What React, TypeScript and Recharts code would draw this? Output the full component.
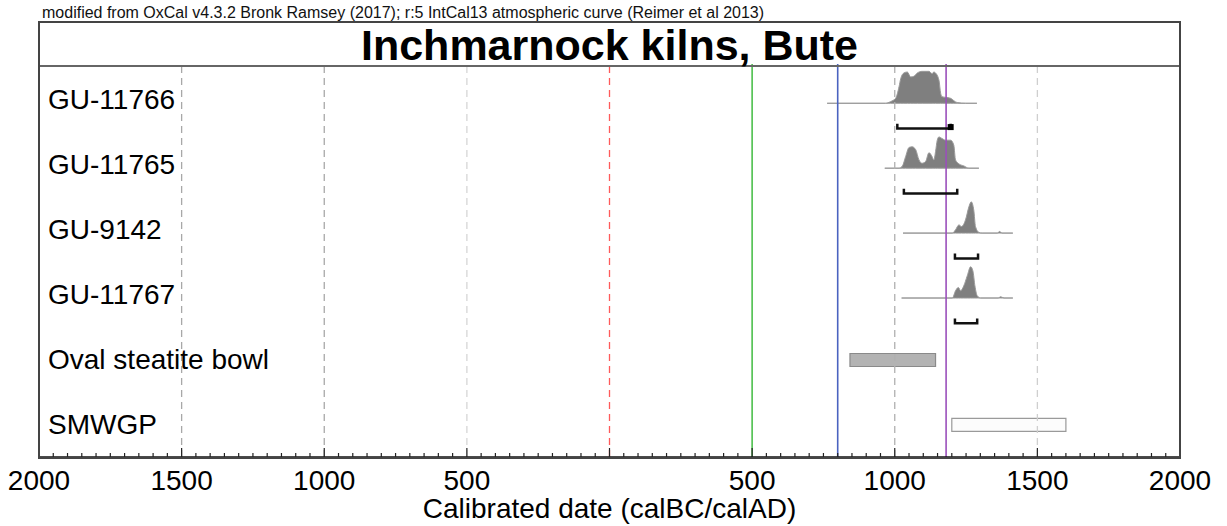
import React from "react";
import {
  Area,
  ComposedChart,
  Line,
  ReferenceArea,
  ReferenceLine,
  Scatter,
  XAxis,
  YAxis,
} from "recharts";

const FONT = "Arial, 'Liberation Sans', Helvetica, sans-serif";

// rows, top to bottom
const rowLabels = [
  "GU-11766",
  "GU-11765",
  "GU-9142",
  "GU-11767",
  "Oval steatite bowl",
  "SMWGP",
];

// calibrated probability distributions (year AD, relative probability)
const gu11766Years = [763, 968, 985, 1003, 1015, 1021, 1032, 1044, 1056, 1067, 1079, 1096, 1120, 1131, 1137, 1143, 1155, 1161, 1166, 1178, 1196, 1207, 1219, 1248, 1288];
const gu11766Prob = [0, 0, 5, 15, 50, 75, 92, 95, 80, 82, 92, 97, 97, 90, 95, 92, 70, 30, 20, 18, 15, 8, 2, 0, 0];

const gu11765Years = [965, 1015, 1027, 1038, 1050, 1061, 1073, 1085, 1096, 1108, 1120, 1131, 1137, 1143, 1149, 1155, 1166, 1178, 1196, 1207, 1213, 1225, 1242, 1260, 1295];
const gu11765Prob = [0, 0, 7, 35, 63, 65, 57, 25, 15, 20, 47, 35, 25, 50, 85, 95, 90, 85, 85, 70, 25, 13, 7, 0, 0];

const gu9142Years = [1029, 1202, 1213, 1225, 1234, 1248, 1260, 1268, 1277, 1283, 1295, 1306, 1359, 1368, 1376, 1414];
const gu9142Prob = [0, 0, 10, 25, 20, 40, 80, 95, 70, 20, 2, 0, 0, 5, 0, 0];

const gu11767Years = [1024, 1202, 1213, 1223, 1231, 1242, 1254, 1266, 1274, 1281, 1289, 1301, 1363, 1371, 1383, 1414];
const gu11767Prob = [0, 0, 22, 32, 22, 37, 67, 95, 82, 37, 7, 0, 0, 4, 0, 0];

// 95.4% ranges
const rangeStarts = [1009, 1032, 1211, 1211];
const rangeEnds = [1196, 1219, 1292, 1289];

// date spans for the two artefacts
const ovalBowlSpan = [843, 1143];
const smwgpSpan = [1200, 1600];

// marker lines
const markerYears = [0, 500, 800, 1180];
const markerColors = ["#ff5a5a", "#4cbf4c", "#4a63c0", "#9b50bb"];

const tickLabels = [-2000, -1500, -1000, -500, 500, 1000, 1500, 2000];
const gridYears = [-1500, -1000, -500, 1000, 1500];
const gridColors = ["#a8a8a8", "#a8a8a8", "#d6d6d6", "#b0b0b0", "#cfcfcf"];

const xTicks: number[] = [];
for (let v = -2000; v <= 2000; v += 50) xTicks.push(v);

const BASE = 0.605; // baseline offset inside a row
const BRACKET = 0.995;
const K = 0.00507; // probability -> row height

const distPoints = (years: number[], prob: number[], row: number) =>
  years.map((x, i) => ({ x, band: [row + BASE, row + BASE - prob[i] * K] }));

const distributions = [
  distPoints(gu11766Years, gu11766Prob, 0),
  distPoints(gu11765Years, gu11765Prob, 1),
  distPoints(gu9142Years, gu9142Prob, 2),
  distPoints(gu11767Years, gu11767Prob, 3),
];

const brackets = rangeStarts.map((s, i) => [
  { x: s, y: i + BRACKET - 0.075 },
  { x: s, y: i + BRACKET },
  { x: rangeEnds[i], y: i + BRACKET },
  { x: rangeEnds[i], y: i + BRACKET - 0.075 },
]);

const XTick = (props: any) => {
  const { x, y, payload } = props;
  const v = payload.value;
  const major = v % 500 === 0;
  return (
    <g>
      <line x1={x} x2={x} y1={y} y2={y - (major ? 9 : 4)} stroke="#222" strokeWidth={1.2} />
      {tickLabels.includes(v) && (
        <text x={x} y={y + 33} textAnchor="middle" fontSize={28} fontFamily={FONT} fill="#000">
          {Math.abs(v)}
        </text>
      )}
    </g>
  );
};

const RowTick = (props: any) => {
  const { x, y, payload } = props;
  const label = rowLabels[Math.floor(payload.value)];
  return (
    <text x={x + 9} y={y} dy={11} textAnchor="start" fontSize={28} fontFamily={FONT} fill="#000">
      {label}
    </text>
  );
};

const Square = (props: any) => (
  <rect x={props.cx - 3} y={props.cy - 4.5} width={6} height={6} fill="#000" />
);

export default function App() {
  return (
    <div style={{ position: "absolute", left: 0, top: 0, width: 1227, height: 526, background: "#fff" }}>
      <div
        style={{
          position: "absolute",
          left: 42,
          top: 4,
          fontFamily: FONT,
          fontSize: 16,
          lineHeight: "18px",
          color: "#111",
          whiteSpace: "nowrap",
        }}
      >
        modified from OxCal v4.3.2 Bronk Ramsey (2017); r:5 IntCal13 atmospheric curve (Reimer et al 2013)
      </div>

      <ComposedChart
        width={1227}
        height={526}
        margin={{ top: 64, right: 47, bottom: 0, left: 38 }}
      >
        <XAxis
          type="number"
          dataKey="x"
          domain={[-2000, 2000]}
          allowDataOverflow
          ticks={xTicks}
          interval={0}
          tick={<XTick />}
          tickLine={false}
          tickSize={0}
          tickMargin={0}
          height={69}
          axisLine={{ stroke: "#111", strokeWidth: 1.5 }}
        />
        <YAxis
          type="number"
          domain={[0, 6.054]}
          reversed
          allowDataOverflow
          ticks={rowLabels.map((_, i) => i + 0.53)}
          interval={0}
          tick={<RowTick />}
          width={1}
          axisLine={false}
          tickLine={false}
          tickSize={0}
          tickMargin={0}
        />

        {gridYears.map((g, i) => (
          <ReferenceLine key={`g${g}`} x={g} stroke={gridColors[i]} strokeWidth={1.3} strokeDasharray="7 5" />
        ))}
        <ReferenceLine x={markerYears[0]} stroke={markerColors[0]} strokeWidth={1.3} strokeDasharray="7 5" />
        {markerYears.slice(1).map((m, i) => (
          <ReferenceLine key={`m${m}`} x={m} stroke={markerColors[i + 1]} strokeWidth={1.6} />
        ))}

        {distributions.map((d, i) => (
          <Area
            key={`d${i}`}
            data={d}
            dataKey="band"
            type="monotoneX"
            fill="#7f7f7f"
            fillOpacity={1}
            stroke="#9a9a9a"
            strokeWidth={1}
            dot={false}
            activeDot={false}
            isAnimationActive={false}
          />
        ))}

        {brackets.map((b, i) => (
          <Line
            key={`b${i}`}
            data={b}
            dataKey="y"
            type="linear"
            stroke="#111"
            strokeWidth={2.5}
            dot={false}
            activeDot={false}
            isAnimationActive={false}
          />
        ))}
        <Scatter
          data={[{ x: rangeEnds[0], y: BRACKET }]}
          dataKey="y"
          shape={<Square />}
          isAnimationActive={false}
        />

        <ReferenceArea
          x1={ovalBowlSpan[0]}
          x2={ovalBowlSpan[1]}
          y1={4 + 0.46}
          y2={4 + 0.66}
          fill="#b3b3b3"
          fillOpacity={1}
          stroke="#8a8a8a"
          strokeWidth={1.2}
        />
        <ReferenceArea
          x1={smwgpSpan[0]}
          x2={smwgpSpan[1]}
          y1={5 + 0.46}
          y2={5 + 0.66}
          fill="#fcfcfc"
          fillOpacity={1}
          stroke="#9a9a9a"
          strokeWidth={1.2}
        />
      </ComposedChart>

      {/* frame + title band */}
      <div
        style={{
          position: "absolute",
          left: 38,
          top: 21,
          width: 1143,
          height: 438,
          border: "2px solid #444",
          boxSizing: "border-box",
          pointerEvents: "none",
        }}
      >
        <div
          style={{
            height: 42,
            borderBottom: "2px solid #666",
            textAlign: "center",
            fontFamily: FONT,
            fontWeight: "bold",
            fontSize: 43,
            lineHeight: "44px",
            color: "#000",
          }}
        >
          Inchmarnock kilns, Bute
        </div>
      </div>

      <div
        style={{
          position: "absolute",
          left: 0,
          width: 1219,
          top: 494,
          textAlign: "center",
          fontFamily: FONT,
          fontSize: 28,
          lineHeight: "30px",
          color: "#000",
        }}
      >
        Calibrated date (calBC/calAD)
      </div>
    </div>
  );
}
